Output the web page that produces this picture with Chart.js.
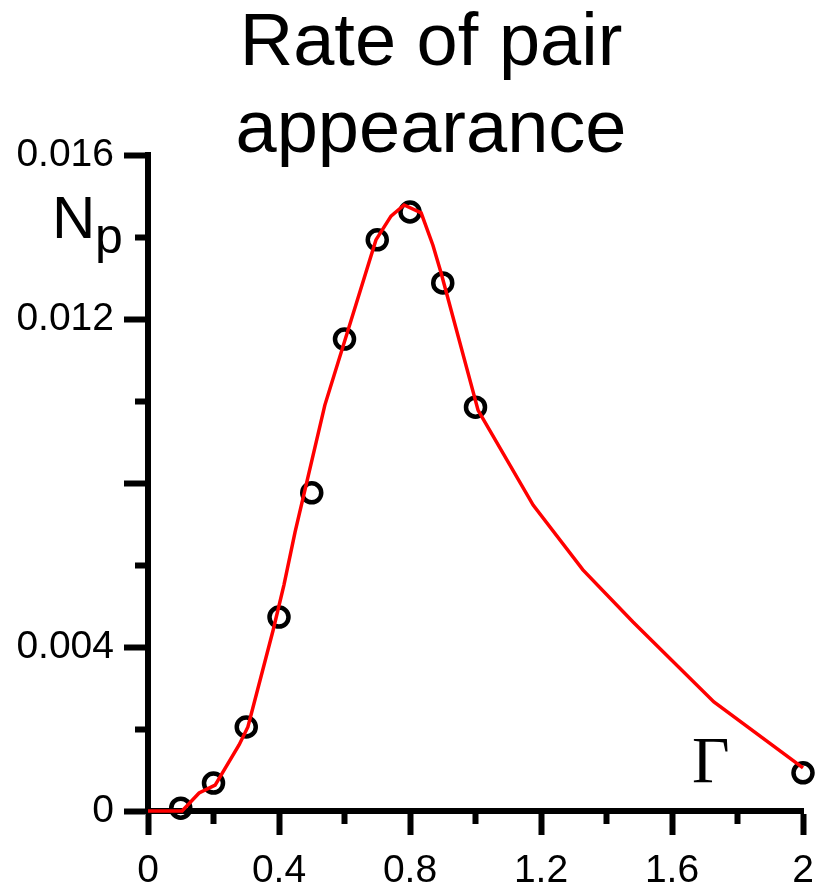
<!DOCTYPE html>
<html>
<head>
<meta charset="utf-8">
<title>Rate of pair appearance</title>
<script src="https://cdn.jsdelivr.net/npm/chart.js@4.4.0/dist/chart.umd.min.js"></script>
<style>
  html, body { margin: 0; padding: 0; background: #ffffff; }
  #wrap { width: 818px; height: 885px; }
</style>
</head>
<body>
<div id="wrap"><canvas id="myChart" width="818" height="885"></canvas></div>
<script>
// Model curve (red line)
const curveGamma = [0, 0.104, 0.156, 0.205, 0.278, 0.305, 0.382, 0.415, 0.449, 0.54, 0.666, 0.696, 0.742, 0.782, 0.834, 0.87, 0.895, 1.008, 1.176, 1.328, 1.481, 1.728, 2.0]
const curveNp = [0, 0, 0.00044, 0.00063, 0.00161, 0.00205, 0.00441, 0.00551, 0.0068, 0.0099, 0.01315, 0.01393, 0.01451, 0.01478, 0.01459, 0.0138, 0.01312, 0.00977, 0.00746, 0.00588, 0.00461, 0.00266, 0.00105]

// Simulation points (open circles)
const pointGamma = [0.1, 0.2, 0.3, 0.4, 0.5, 0.6, 0.7, 0.8, 0.9, 1.0, 2.0]
const pointNp = [0.00007, 0.00068, 0.00205, 0.00473, 0.00776, 0.01151, 0.01393, 0.01461, 0.01288, 0.00985, 0.00093]

// Tick labels, one per tick (empty = unlabeled tick)
const xTickLabels = ['0', '', '0.4', '', '0.8', '', '1.2', '', '1.6', '', '2']
const yTickLabels = ['0', '', '0.004', '', '', '', '0.012', '', '0.016']

const titleLines = ['Rate of pair', 'appearance']
const yAxisName = ['N', 'p']
const xAxisName = 'Γ'

const FONT = '"Liberation Sans", Arial, sans-serif'

const toXY = (xs, ys) => xs.map((x, i) => ({ x: x, y: ys[i] }))

// Minor ticks are drawn half length by dashing the tick line
const isMajor = ctx => ctx.index % 2 === 0

// Title and axis names drawn on top
const textPlugin = {
  id: 'textLabels',
  afterDraw(chart) {
    const ctx = chart.ctx
    ctx.save()
    ctx.fillStyle = '#000000'
    ctx.textBaseline = 'alphabetic'

    ctx.font = '74px ' + FONT
    ctx.textAlign = 'center'
    ctx.fillText(titleLines[0], 431, 65)
    ctx.fillText(titleLines[1], 431, 152)

    ctx.textAlign = 'left'
    ctx.font = '60px ' + FONT
    ctx.fillText(yAxisName[0], 52, 238)
    ctx.font = '50px ' + FONT
    ctx.fillText(yAxisName[1], 95, 253)

    ctx.font = '65px "Liberation Serif", "Times New Roman", serif'
    ctx.fillText(xAxisName, 692, 782)
    ctx.restore()
  }
}

const ctx = document.getElementById('myChart').getContext('2d')

const myChart = new Chart(ctx, {
  type: 'scatter',
  data: {
    datasets: [
      {
        label: 'model',
        data: toXY(curveGamma, curveNp),
        showLine: true,
        borderColor: '#ff0000',
        borderWidth: 3.5,
        pointRadius: 0,
        pointHoverRadius: 0,
        tension: 0,
        fill: false,
        clip: false,
        order: 0
      },
      {
        label: 'simulation',
        data: toXY(pointGamma, pointNp),
        showLine: false,
        pointStyle: 'circle',
        pointRadius: 9.5,
        pointHoverRadius: 9.5,
        pointBorderWidth: 4.5,
        pointBorderColor: '#000000',
        pointBackgroundColor: 'rgba(0,0,0,0)',
        clip: false,
        order: 1
      }
    ]
  },
  options: {
    responsive: false,
    animation: false,
    events: [],
    layout: {
      padding: { top: 155, right: 15, bottom: 0, left: 0 }
    },
    plugins: {
      legend: { display: false },
      title: { display: false },
      tooltip: { enabled: false }
    },
    scales: {
      x: {
        type: 'linear',
        position: 'bottom',
        min: 0,
        max: 2,
        afterFit: scale => {
          scale.height = 74
          scale.paddingRight = 15
        },
        border: { display: true, color: '#000000', width: 6 },
        grid: {
          drawOnChartArea: false,
          drawTicks: true,
          tickLength: 24,
          tickWidth: 6,
          tickColor: '#000000',
          tickBorderDash: c => isMajor(c) ? [] : [10, 100]
        },
        ticks: {
          stepSize: 0.2,
          autoSkip: false,
          maxRotation: 0,
          padding: 13,
          color: '#000000',
          font: { family: FONT, size: 39 },
          callback: (value, index) => xTickLabels[index]
        }
      },
      y: {
        type: 'linear',
        position: 'left',
        min: 0,
        max: 0.016,
        afterFit: scale => { scale.width = 148 },
        border: { display: true, color: '#000000', width: 6 },
        grid: {
          drawOnChartArea: false,
          drawTicks: true,
          tickLength: 24,
          tickWidth: 6,
          tickColor: '#000000',
          tickBorderDash: c => isMajor(c) ? [] : [0, 11, 100]
        },
        ticks: {
          stepSize: 0.002,
          autoSkip: false,
          padding: 10,
          color: '#000000',
          font: { family: FONT, size: 39 },
          callback: (value, index) => yTickLabels[index]
        }
      }
    }
  },
  plugins: [textPlugin]
})
</script>
</body>
</html>
